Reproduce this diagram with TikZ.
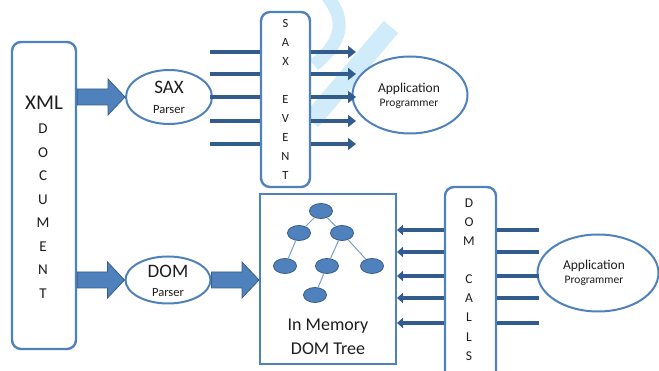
\documentclass[tikz,border=0pt]{standalone}
\usepackage{fontspec}
\setmainfont{Carlito}
\usetikzlibrary{shapes.geometric,arrows.meta,calc}

\definecolor{officeblue}{RGB}{79,129,189}
\definecolor{officedark}{RGB}{56,93,138}
\definecolor{linedark}{RGB}{50,92,142}
\definecolor{treeline}{RGB}{120,160,210}
\definecolor{inkgray}{RGB}{30,30,30}
\definecolor{wmblue}{RGB}{208,236,250}

\tikzset{
  panel/.style={draw=officeblue, line width=2.4pt, fill=white, rounded corners=9pt},
  treebox/.style={draw=officeblue, line width=2pt, fill=white},
  oval/.style={ellipse, draw=officeblue, line width=2pt, fill=white, inner sep=0pt},
  treenode/.style={ellipse, draw=officedark, line width=0.8pt, fill=officeblue,
    minimum width=23pt, minimum height=15pt, inner sep=0pt},
  treeedge/.style={draw=treeline, line width=1pt},
  letter/.style={text=inkgray, inner sep=0pt},
  blockarrow/.style={fill=officeblue, draw=officedark, line width=0.8pt},
  evline/.style={draw=linedark, line width=4.5pt},
  evarrow/.style={evline, -{Triangle[length=8pt,width=12pt]}},
  callarrow/.style={evline, -{Triangle[length=6pt,width=10pt]}},
}

% thick block arrow between two points (body half-height 8, head 17 long)
\newcommand\blockarrow[2]{%
  \draw[blockarrow] let \p1=(#1), \p2=(#2) in
    (\x1,\y1+8pt) -- (\x2-17pt,\y1+8pt) -- (\x2-17pt,\y1+18pt) -- (\x2,\y1)
    -- (\x2-17pt,\y1-18pt) -- (\x2-17pt,\y1-8pt) -- (\x1,\y1-8pt) -- cycle;}

\begin{document}
\begin{tikzpicture}[x=1pt,y=-1pt]
\useasboundingbox (0,0) rectangle (659,371);
\begin{scope}
\clip (0,0) rectangle (659,371);

% faint background mark
\draw[wmblue, line width=13pt, line cap=butt]
  (327,-4) .. controls (341,14) and (350,36) .. (314,65);
\draw[wmblue, line width=19pt] (391,27) -- (311,121);

% XML document panel
\node[panel, minimum width=64pt, minimum height=307pt] (xml) at (44,195.5) {};
\node[letter, font=\fontsize{21}{23}\selectfont] (xmltitle) at (44,103) {XML};
\foreach \l [count=\i] in {D,O,C,U,M,E,N,T}
  \node[letter, font=\fontsize{15}{17}\selectfont] (xmlL\i) at (43,129+23.5*\i-23.5) {\l};

% parsers
\node[oval, minimum width=86pt, minimum height=54pt] (saxp) at (169,97) {};
\node[letter, font=\fontsize{19}{21}\selectfont] (saxt) at (169,87) {SAX};
\node[letter, font=\fontsize{12.5}{14}\selectfont] (saxs) at (169,110) {Parser};

\node[oval, minimum width=85pt, minimum height=47pt] (domp) at (168,280) {};
\node[letter, font=\fontsize{19}{21}\selectfont] (domt) at (168,271) {DOM};
\node[letter, font=\fontsize{12.5}{14}\selectfont] (doms) at (168,293) {Parser};

\blockarrow{xml.east |- saxp.west}{saxp.west}
\blockarrow{xml.east |- domp.west}{domp.west}

% SAX event stream
\node[panel, minimum width=49pt, minimum height=175pt] (saxev) at (285.5,99.5) {};
\foreach \l [count=\i] in {S,A,X,{},E,V,E,N,T}
  \node[letter, font=\fontsize{12.5}{14}\selectfont] (saxevL\i) at (285.5,23+19*\i-19) {\l};

\node[oval, minimum width=115pt, minimum height=77pt] (appa) at (410,95) {};
\node[letter, font=\fontsize{13.5}{15}\selectfont] (appat) at (409,89) {Application};
\node[letter, font=\fontsize{11.5}{13}\selectfont] (appas) at (409,104) {Programmer};

\foreach \y [count=\i] in {52,74,97,121,144} {
  \coordinate (sl\i) at (210,\y);
  \coordinate (sr\i) at (356,\y);
  \draw[evline] (sl\i) -- (sl\i -| saxev.west);
  \draw[evarrow] (sl\i -| saxev.east) -- (sr\i);
}

% in-memory DOM tree
\node[treebox, minimum width=136pt, minimum height=170pt] (tree) at (328,279) {};
\node[treenode] (t0) at (321,211) {};
\node[treenode] (t1) at (299,233) {};
\node[treenode] (t2) at (342,233) {};
\node[treenode] (t3) at (285,266) {};
\node[treenode] (t4) at (327,266) {};
\node[treenode] (t5) at (372,266) {};
\node[treenode] (t6) at (315,295) {};
\draw[treeedge] (t0) -- (t1) (t0) -- (t2) (t1) -- (t3)
  (t2) -- (t4) (t2) -- (t5) (t4) -- (t6);
\node[letter, font=\fontsize{18}{20}\selectfont] (treet1) at (328,326) {In Memory};
\node[letter, font=\fontsize{18}{20}\selectfont] (treet2) at (328,349) {DOM Tree};

\blockarrow{domp.east}{tree.west |- domp.east}

% DOM calls
\node[panel, minimum width=51pt, minimum height=200pt] (calls) at (470.5,287) {};
\foreach \l [count=\i] in {D,O,M,{},C,A,L,L,S}
  \node[letter, font=\fontsize{13.5}{15}\selectfont] (callsL\i) at (469,203+19.1*\i-19.1) {\l};

\node[oval, minimum width=121pt, minimum height=77pt] (appb) at (598,273) {};
\node[letter, font=\fontsize{13.5}{15}\selectfont] (appbt) at (594,266) {Application};
\node[letter, font=\fontsize{11.5}{13}\selectfont] (appbs) at (594,281) {Programmer};

\foreach \y [count=\i] in {230,252,276,298,323} {
  \coordinate (cr\i) at (539,\y);
  \draw[callarrow] (cr\i -| calls.west) -- (cr\i -| tree.east);
  \draw[evline] (cr\i -| calls.east) -- (cr\i);
}
\end{scope}
\end{tikzpicture}
\end{document}
